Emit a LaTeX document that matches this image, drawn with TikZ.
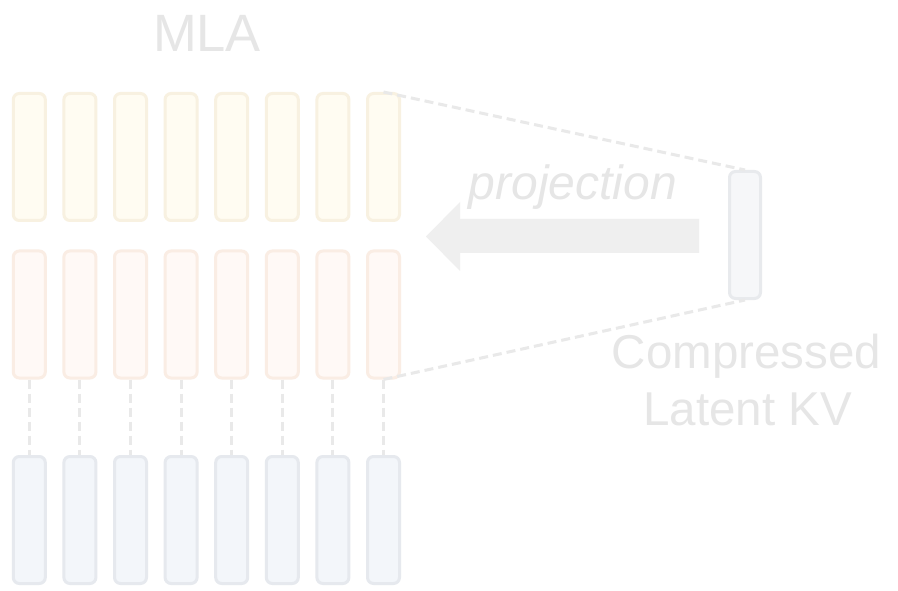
\documentclass[tikz,border=0pt]{standalone}
\usepackage{fontspec}
\setmainfont{Liberation Sans}
\usetikzlibrary{calc}
\definecolor{qfill}{HTML}{FFFCF2}
\definecolor{qline}{HTML}{F8F1E1}
\definecolor{kfill}{HTML}{FFF9F6}
\definecolor{kline}{HTML}{FAEDE4}
\definecolor{vfill}{HTML}{F3F6FA}
\definecolor{vline}{HTML}{E6E9EE}
\definecolor{cfill}{HTML}{F6F7F9}
\definecolor{cline}{HTML}{E8EAED}
\definecolor{dashc}{HTML}{E9E9E9}
\definecolor{arrowc}{HTML}{EFEFEF}
\definecolor{textc}{HTML}{E6E6E6}
\begin{document}
\begin{tikzpicture}[x=1pt,y=-1pt,
  cell/.style={rectangle, rounded corners=6pt, line width=3pt, inner sep=0pt,
    minimum width=32pt, minimum height=127pt},
  qcell/.style={cell, draw=qline, fill=qfill},
  kcell/.style={cell, draw=kline, fill=kfill},
  vcell/.style={cell, draw=vline, fill=vfill},
  latent/.style={cell, draw=cline, fill=cfill, minimum width=31pt},
  link/.style={draw=dashc, line width=3pt, dash pattern=on 9pt off 5pt},
  label/.style={text=textc, inner sep=0pt, anchor=base}]
  \fill[white] (0,0) rectangle (898,591);
  \useasboundingbox (0,0) rectangle (898,591);

  % three rows of eight cells
  \foreach \i in {1,...,8} {
    \pgfmathsetmacro{\cx}{29.3+50.6*(\i-1)}
    \node[qcell] (q\i) at (\cx,157) {};
    \node[kcell] (k\i) at (\cx,314.5) {};
    \node[vcell] (v\i) at (\cx,520) {};
    \draw[link] (k\i.south) -- (v\i.north);
  }

  % compressed latent vector
  \node[latent] (c) at (745,235) {};
  \draw[link] (q8.north) -- (c.north);
  \draw[link] (k8.south) -- (c.south);

  % projection arrow
  \fill[arrowc] (699,219) -- (460,219) -- (460,202) -- (426,236.5)
    -- (460,271) -- (460,253) -- (699,253) -- cycle;

  \node[label, font=\fontsize{52.5}{60}\selectfont] (title) at (207,52) {MLA};
  \node[label, font=\fontsize{48}{56}\selectfont\itshape] (proj) at (573,200) {projection};
  \node[label, font=\fontsize{47.5}{57}\selectfont] (cap1) at (746.5,368) {Compressed};
  \node[label, font=\fontsize{47.5}{57}\selectfont] (cap2) at (747.5,425) {Latent KV};
\end{tikzpicture}
\end{document}
